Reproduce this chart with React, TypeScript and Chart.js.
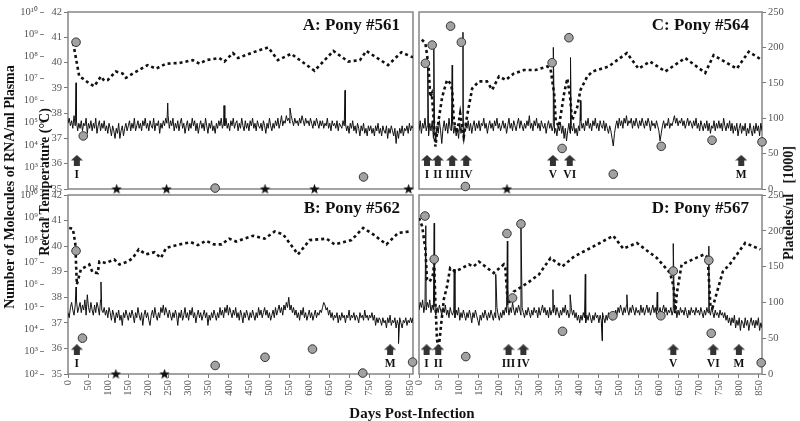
import { useEffect, useRef } from "react";
import { Chart, registerables } from "chart.js";

Chart.register(...registerables);

// ---------------- DATA ----------------
const DAY_STEP = 3; // rectal temperature samples every 3 days, starting at day 0

// Panel A: Pony #561
const tempA = [
  37.6, 37.8, 37.5, 37.7, 37.4, 37.9, 37.5, 37.7, 37.3, 37.6,
  37.4, 37.7, 37.3, 37.6, 37.5, 37.8, 37.2, 37.6, 37.4, 37.7,
  37.3, 37.6, 37.4, 37.8, 37.2, 37.5, 37.7, 37.3, 37.6, 37.4,
  37.7, 37.3, 37.5, 37.2, 37.6, 37.4, 37.1, 37.5, 37.3, 37.0,
  37.4, 37.2, 37.6, 37.0, 37.3, 37.5, 37.1, 37.4, 37.6, 37.3,
  37.5, 37.7, 37.3, 37.6, 37.4, 37.8, 37.3, 37.5, 37.7, 37.4,
  37.6, 37.3, 37.7, 37.5, 37.8, 37.4, 37.6, 37.3, 37.7, 37.5,
  37.4, 37.8, 37.3, 37.6, 37.5, 37.7, 37.2, 37.6, 37.4, 37.7,
  37.5, 37.8, 37.6, 37.9, 37.4, 37.7, 37.5, 37.8, 37.3, 37.6,
  37.4, 37.7, 37.3, 37.6, 37.8, 37.4, 37.6, 37.2, 37.5, 37.7,
  37.3, 37.6, 37.4, 37.8, 37.5, 37.7, 37.3, 37.6, 37.2, 37.5,
  37.7, 37.4, 37.6, 37.3, 37.8, 37.5, 37.2, 37.6, 37.4, 37.7,
  37.3, 37.5, 37.2, 37.6, 37.4, 37.7, 37.5, 37.8, 37.4, 37.6,
  37.5, 37.8, 37.4, 37.6, 37.3, 37.7, 37.5, 37.8, 37.4, 37.6,
  37.7, 37.3, 37.6, 37.4, 37.8, 37.5, 37.3, 37.7, 37.4, 37.6,
  37.3, 37.7, 37.5, 37.8, 37.4, 37.6, 37.3, 37.7, 37.5, 37.4,
  37.6, 37.3, 37.7, 37.5, 37.2, 37.6, 37.4, 37.8, 37.5, 37.3,
  37.6, 37.4, 37.7, 37.5, 37.8, 37.4, 37.6, 37.9, 37.5, 37.7,
  37.6, 37.9, 37.7, 37.8, 37.6, 37.9, 37.7, 37.5, 37.8, 37.6,
  37.7, 37.5, 37.8, 37.6, 37.9, 37.7, 37.5, 37.8, 37.6, 37.7,
  37.5, 37.8, 37.6, 37.4, 37.7, 37.5, 37.8, 37.6, 37.4, 37.7,
  37.5, 37.7, 37.4, 37.6, 37.5, 37.8, 37.4, 37.6, 37.3, 37.7,
  37.5, 37.6, 37.4, 37.7, 37.3, 37.6, 37.5, 37.4, 37.7, 37.5,
  37.6, 37.3, 37.5, 37.2, 37.6, 37.4, 37.7, 37.3, 37.5, 37.2,
  37.6, 37.4, 37.1, 37.5, 37.3, 37.6, 37.2, 37.4, 37.1, 37.5,
  37.3, 37.5, 37.2, 37.4, 37.1, 37.5, 37.3, 37.6, 37.2, 37.4,
  37.1, 37.5, 37.3, 37.2, 37.5, 37.0, 37.4, 37.2, 37.5, 37.3,
  37.1, 37.4, 36.8, 37.3, 37.0, 37.4, 37.2, 37.5, 37.1, 37.4,
  37.3, 37.5, 37.2, 37.6, 37.3, 37.5, 37.4,
];
const spikeDaysA = [20, 248, 388, 552, 689];
const spikeTempsA = [39.2, 38.4, 38.3, 38.2, 38.9];
const plateletDaysA = [13, 28, 37, 53, 65, 82, 90, 99, 119, 136, 144, 161, 198, 219, 244, 277, 310, 327, 343, 376, 389, 410, 423, 460, 498, 522, 555, 613, 660, 697, 726, 742, 796, 829, 858];
const plateletsA = [206, 159, 156, 149, 145, 159, 153, 154, 166, 163, 157, 163, 175, 170, 177, 178, 182, 177, 182, 185, 180, 192, 185, 193, 200, 182, 191, 167, 195, 180, 182, 195, 175, 193, 186];
const rnaDaysA = [20, 38, 366, 735];
const rnaA = [4.3e8, 2.5e4, 1.1e2, 3.5e2];
const belowDetectionDaysA = [121, 245, 490, 613, 847];
const treatDaysA = [22];
const treatLabelsA = ["I"];

// Panel B: Pony #562
const tempB = [
  37.4, 37.2, 37.6, 37.8, 37.5, 37.3, 37.7, 37.9, 37.4, 37.6,
  37.8, 37.4, 37.7, 37.5, 37.9, 37.3, 38.1, 37.6, 37.4, 37.8,
  37.5, 37.3, 37.7, 37.4, 37.8, 37.6, 37.3, 37.9, 37.5, 37.4,
  37.6, 37.3, 37.5, 37.2, 37.6, 37.4, 37.1, 37.5, 37.3, 37.0,
  37.4, 37.2, 37.5, 37.1, 37.3, 36.9, 37.4, 37.2, 37.5, 37.3,
  37.1, 37.4, 37.2, 37.5, 37.3, 37.0, 37.4, 37.2, 37.6, 37.3,
  37.1, 37.4, 36.9, 37.3, 37.5, 37.2, 37.4, 37.1, 36.9, 37.3,
  37.5, 37.2, 37.6, 37.3, 37.1, 37.4, 37.2, 37.6, 37.4, 37.7,
  37.3, 37.6, 37.4, 37.2, 37.5, 37.3, 37.1, 37.4, 37.2, 37.5,
  37.3, 36.9, 37.4, 37.2, 37.5, 37.1, 37.3, 37.6, 37.2, 37.4,
  37.1, 37.5, 37.3, 37.6, 37.2, 37.4, 37.0, 37.3, 37.5, 37.2,
  37.4, 37.1, 37.3, 37.5, 37.2, 37.4, 36.9, 37.3, 37.1, 37.4,
  37.2, 37.5, 37.3, 37.1, 37.4, 37.2, 37.6, 37.3, 37.5, 37.2,
  37.6, 37.4, 37.7, 37.3, 37.6, 37.4, 37.2, 37.5, 37.3, 37.6,
  37.2, 37.4, 37.1, 37.5, 37.3, 37.0, 37.4, 37.2, 37.5, 37.3,
  37.1, 37.4, 37.2, 37.5, 37.3, 37.1, 37.4, 37.2, 37.6, 37.3,
  37.5, 37.2, 37.4, 37.6, 37.3, 37.5, 37.2, 37.4, 37.1, 37.3,
  37.5, 37.2, 37.6, 37.3, 37.5, 37.7, 37.4, 37.6, 37.3, 37.7,
  37.5, 37.8, 37.6, 38.0, 37.5, 37.7, 37.4, 37.6, 37.3, 37.5,
  37.2, 37.4, 37.1, 37.5, 37.3, 37.6, 37.2, 37.4, 37.1, 37.3,
  37.5, 37.2, 37.4, 37.1, 37.3, 37.5, 37.2, 37.4, 37.3, 37.5,
  37.4, 37.6, 37.8, 37.7, 37.5, 37.6, 37.3, 37.5, 37.2, 37.4,
  37.1, 37.3, 37.2, 37.4, 37.0, 37.3, 37.1, 37.4, 37.2, 37.3,
  37.0, 37.3, 37.2, 37.5, 37.1, 37.3, 37.2, 37.4, 37.1, 37.3,
  37.2, 37.0, 37.4, 37.2, 37.3, 37.1, 37.5, 37.2, 37.3, 37.1,
  37.3, 37.2, 37.4, 37.1, 37.3, 36.9, 37.2, 37.0, 37.2, 37.1,
  36.9, 37.2, 37.0, 37.1, 36.8, 37.2, 37.0, 37.3, 36.9, 37.1,
  37.0, 37.2, 36.8, 37.1, 36.9, 37.2, 37.0, 36.8, 37.1, 37.0,
  37.2, 36.9, 37.1, 37.0, 37.2, 37.0, 37.2,
];
const spikeDaysB = [20, 82, 822];
const spikeTempsB = [38.4, 38.6, 36.2];
const plateletDaysB = [3, 12, 18, 22, 32, 53, 61, 74, 78, 94, 115, 128, 149, 161, 176, 194, 215, 231, 244, 277, 306, 323, 343, 363, 382, 401, 418, 460, 489, 514, 535, 572, 601, 643, 663, 705, 734, 759, 792, 821, 850];
const plateletsB = [204, 203, 183, 125, 146, 153, 142, 141, 157, 155, 160, 153, 157, 162, 174, 167, 170, 162, 176, 181, 184, 180, 186, 181, 181, 189, 185, 193, 189, 199, 195, 167, 187, 189, 181, 187, 204, 195, 181, 197, 199];
const rnaDaysB = [20, 36, 366, 490, 608, 733, 857];
const rnaB = [3.2e7, 4.0e3, 2.4e2, 5.6e2, 1.3e3, 1.1e2, 3.4e2];
const belowDetectionDaysB = [119, 240];
const treatDaysB = [22, 801];
const treatLabelsB = ["I", "M"];

// Panel C: Pony #564
const tempC = [
  37.3, 37.7, 37.2, 37.6, 37.4, 37.8, 37.3, 37.5, 37.1, 37.6,
  37.3, 37.7, 37.0, 37.4, 36.9, 37.5, 37.2, 37.7, 37.3, 36.8,
  37.4, 37.7, 37.3, 37.6, 37.2, 37.8, 37.4, 37.3, 37.6, 37.2,
  37.5, 37.1, 37.4, 37.0, 37.6, 37.2, 37.5, 36.9, 37.3, 37.6,
  37.4, 37.7, 37.3, 37.6, 37.2, 37.5, 37.7, 37.3, 37.6, 37.4,
  37.7, 37.3, 37.6, 37.5, 37.8, 37.4, 37.6, 37.2, 37.5, 37.7,
  37.4, 37.6, 37.3, 37.7, 37.5, 37.8, 37.4, 37.6, 37.3, 37.5,
  37.7, 37.4, 37.6, 37.2, 37.5, 37.8, 37.4, 37.6, 37.3, 37.7,
  37.5, 37.3, 37.6, 37.8, 37.4, 37.7, 37.5, 37.3, 37.6, 37.4,
  37.7, 37.5, 37.9, 37.4, 37.6, 37.3, 37.7, 37.5, 37.8, 37.4,
  37.6, 37.3, 37.7, 37.5, 37.4, 37.6, 37.2, 37.5, 37.7, 37.4,
  37.6, 37.3, 37.5, 37.2, 37.4, 37.1, 37.5, 37.3, 37.6, 37.2,
  37.5, 37.0, 37.4, 36.9, 37.3, 37.6, 37.2, 37.5, 37.3, 37.6,
  37.2, 37.4, 37.1, 37.5, 37.3, 37.7, 37.4, 37.6, 37.3, 37.7,
  37.5, 37.8, 37.4, 37.6, 37.3, 37.7, 37.5, 37.8, 37.4, 37.6,
  37.3, 37.7, 37.5, 37.4, 37.7, 37.3, 37.6, 37.4, 37.2, 37.5,
  37.3, 37.0, 36.7, 37.2, 37.5, 37.7, 37.4, 37.8, 37.5, 37.7,
  37.4, 37.8, 37.6, 37.9, 37.5, 37.7, 37.6, 37.8, 37.4, 37.7,
  37.5, 37.8, 37.6, 37.4, 37.7, 37.5, 37.8, 37.6, 37.4, 37.7,
  37.5, 37.8, 37.6, 37.3, 37.7, 37.5, 37.6, 37.4, 37.7, 37.5,
  37.3, 36.9, 37.2, 37.5, 37.7, 37.4, 37.6, 37.5, 37.8, 37.4,
  37.6, 37.5, 37.7, 37.9, 37.6, 37.8, 37.5, 37.7, 37.6, 37.8,
  37.5, 37.7, 37.4, 37.6, 37.8, 37.5, 37.7, 37.6, 37.4, 37.7,
  37.5, 37.8, 37.4, 37.6, 37.3, 37.7, 37.5, 37.3, 37.6, 37.4,
  37.7, 37.3, 37.6, 37.2, 37.5, 37.4, 37.7, 37.3, 37.6, 37.4,
  37.7, 37.4, 37.6, 37.3, 37.8, 37.5, 37.3, 37.6, 37.4, 37.7,
  37.3, 37.6, 37.2, 37.5, 37.3, 37.6, 37.1, 37.4, 37.6, 37.2,
  37.5, 37.3, 37.6, 37.1, 37.4, 37.2, 37.6, 37.3, 37.1, 37.5,
  37.2, 37.6, 37.3, 37.5, 37.1, 37.6, 37.3,
];
const spikeDaysC = [22, 37, 83, 110, 336, 379, 404];
const spikeTempsC = [39.9, 40.8, 39.9, 41.2, 40.6, 40.2, 38.5];
const plateletDaysC = [7, 16, 24, 28, 32, 37, 41, 49, 58, 70, 79, 83, 87, 95, 103, 112, 120, 133, 150, 170, 183, 200, 217, 237, 262, 291, 321, 329, 338, 342, 350, 363, 371, 378, 383, 396, 404, 421, 434, 474, 520, 549, 578, 616, 666, 716, 737, 795, 825, 858];
const plateletsC = [211, 206, 173, 130, 135, 97, 60, 97, 130, 154, 149, 140, 97, 79, 107, 74, 102, 142, 152, 152, 140, 159, 154, 163, 168, 168, 173, 170, 135, 97, 88, 135, 156, 130, 97, 116, 140, 159, 166, 173, 192, 170, 180, 166, 185, 164, 189, 170, 194, 182];
const rnaDaysC = [16, 33, 79, 106, 116, 333, 358, 375, 486, 606, 733, 858];
const rnaC = [4.8e7, 3.2e8, 2.3e9, 4.3e8, 1.3e2, 5.1e7, 6.8e3, 6.9e8, 4.7e2, 8.5e3, 1.6e4, 1.35e4];
const belowDetectionDaysC = [220];
const treatDaysC = [20, 47, 83, 118, 335, 377, 806];
const treatLabelsC = ["I", "II", "III", "IV", "V", "VI", "M"];

// Panel D: Pony #567
const tempD = [
  37.5, 37.8, 37.6, 37.9, 37.4, 37.7, 37.5, 37.8, 37.6, 37.9,
  37.4, 37.7, 37.5, 37.8, 37.3, 37.6, 37.4, 37.7, 37.5, 37.3,
  37.6, 37.4, 37.7, 37.3, 37.5, 37.2, 37.6, 37.4, 37.3, 37.5,
  37.2, 37.5, 37.3, 37.6, 37.1, 37.4, 37.2, 37.5, 37.3, 37.1,
  37.4, 37.2, 37.5, 37.3, 37.0, 37.4, 37.2, 37.5, 37.3, 37.1,
  36.9, 37.3, 37.1, 37.4, 37.2, 37.5, 37.3, 37.1, 37.4, 37.2,
  37.5, 37.3, 37.1, 37.4, 37.2, 37.6, 37.3, 37.1, 37.4, 37.2,
  37.5, 37.3, 37.6, 37.4, 37.7, 37.3, 37.6, 37.4, 37.8, 37.5,
  37.3, 37.6, 37.4, 37.7, 37.5, 37.3, 37.6, 37.4, 37.2, 37.5,
  37.3, 37.6, 37.4, 37.2, 37.5, 37.3, 37.6, 37.4, 37.5, 37.2,
  37.6, 37.3, 37.5, 37.7, 37.4, 37.6, 37.3, 37.5, 37.2, 37.6,
  37.3, 37.5, 37.4, 37.7, 37.3, 37.6, 37.4, 37.2, 37.5, 37.3,
  37.6, 37.4, 37.7, 37.3, 37.5, 37.2, 37.4, 37.6, 37.3, 37.5,
  37.2, 37.4, 37.1, 37.3, 37.0, 37.3, 37.1, 37.4, 37.2, 37.0,
  37.3, 37.1, 37.4, 37.2, 37.0, 37.3, 37.1, 37.4, 37.2, 37.3,
  37.0, 37.3, 37.1, 37.4, 37.2, 37.0, 37.3, 37.1, 37.4, 37.2,
  37.3, 37.1, 37.4, 37.2, 37.5, 37.3, 37.6, 37.4, 37.7, 37.5,
  37.3, 37.6, 37.4, 37.7, 37.5, 37.3, 37.6, 37.4, 37.7, 37.5,
  37.3, 37.6, 37.4, 37.5, 37.3, 37.7, 37.4, 37.6, 37.3, 37.5,
  37.7, 37.4, 37.6, 37.3, 37.5, 37.7, 37.4, 37.6, 37.3, 37.5,
  37.4, 37.6, 37.3, 37.5, 37.7, 37.4, 37.6, 37.3, 37.5, 37.4,
  37.6, 37.3, 37.5, 37.4, 37.6, 37.2, 37.5, 37.3, 37.6, 37.4,
  37.5, 37.3, 37.6, 37.4, 37.2, 37.5, 37.3, 37.6, 37.4, 37.5,
  37.3, 37.6, 37.4, 37.5, 37.3, 37.6, 37.4, 37.2, 37.5, 37.3,
  37.6, 37.4, 37.5, 37.3, 37.6, 37.4, 37.2, 37.5, 37.3, 37.4,
  37.2, 37.5, 37.3, 37.4, 37.2, 37.4, 37.1, 37.3, 37.0, 37.2,
  36.9, 37.2, 37.0, 37.3, 36.8, 37.1, 36.9, 37.2, 36.7, 37.1,
  37.0, 36.8, 37.2, 36.9, 37.1, 36.7, 37.0, 37.2, 36.9, 37.1,
  36.8, 37.1, 36.9, 37.2, 36.7, 37.0, 36.8,
];
const spikeDaysD = [17, 38, 88, 192, 221, 255, 335, 378, 416, 458, 520, 596, 636, 725];
const spikeTempsD = [40.8, 40.9, 39.1, 38.9, 40.2, 40.9, 38.3, 38.1, 38.9, 36.3, 38.1, 38.2, 40.1, 40.0];
const plateletDaysD = [0, 8, 16, 20, 27, 35, 38, 41, 45, 49, 55, 62, 70, 78, 91, 125, 136, 150, 187, 212, 216, 221, 225, 237, 271, 300, 329, 358, 388, 429, 486, 511, 545, 595, 628, 637, 641, 645, 657, 713, 722, 729, 734, 760, 777, 816, 854];
const plateletsD = [218, 206, 174, 132, 129, 139, 155, 99, 48, 34, 67, 104, 122, 148, 143, 153, 150, 157, 141, 153, 148, 108, 99, 115, 127, 139, 162, 150, 164, 176, 193, 175, 183, 162, 141, 122, 85, 113, 153, 167, 163, 95, 92, 143, 153, 183, 174];
const rnaDaysD = [15, 38, 117, 220, 234, 255, 359, 485, 605, 636, 725, 731, 856];
const rnaD = [1.15e9, 1.35e7, 6.0e2, 1.9e8, 2.5e5, 5.1e8, 8.1e3, 4.0e4, 4.0e4, 4.0e6, 1.2e7, 6.6e3, 3.2e2];
const belowDetectionDaysD: number[] = [];
const treatDaysD = [19, 48, 224, 261, 636, 736, 800];
const treatLabelsD = ["I", "II", "III", "IV", "V", "VI", "M"];

// Axis ranges / ticks
const DAY_MAX = 858;
const TEMP_MIN = 35;
const TEMP_MAX = 42;
const RNA_EXPONENTS = [2, 3, 4, 5, 6, 7, 8, 9, 10];
const PLATELET_MAX = 250;

// ---------------- STYLE / LAYOUT ----------------
const SERIF = '"Liberation Serif", "Times New Roman", Times, serif';
const TICK_COLOR = "#555";
const BORDER_COLOR = "#858585";

type Panel = {
  key: string;
  title: string;
  left: boolean;
  showX: boolean;
  padding: { left: number; top: number; right: number; bottom: number };
  arrowLevel: number;
  temps: number[];
  spikeDays: number[];
  spikeTemps: number[];
  plateletDays: number[];
  platelets: number[];
  rnaDays: number[];
  rna: number[];
  starDays: number[];
  treatDays: number[];
  treatLabels: string[];
};

const PANELS: Panel[] = [
  {
    key: "A", title: "A: Pony #561", left: true, showX: false,
    padding: { left: 0, top: 12, right: 387, bottom: 232 }, arrowLevel: 36.13,
    temps: tempA, spikeDays: spikeDaysA, spikeTemps: spikeTempsA,
    plateletDays: plateletDaysA, platelets: plateletsA,
    rnaDays: rnaDaysA, rna: rnaA, starDays: belowDetectionDaysA,
    treatDays: treatDaysA, treatLabels: treatLabelsA,
  },
  {
    key: "B", title: "B: Pony #562", left: true, showX: true,
    padding: { left: 0, top: 195, right: 387, bottom: 17 }, arrowLevel: 35.95,
    temps: tempB, spikeDays: spikeDaysB, spikeTemps: spikeTempsB,
    plateletDays: plateletDaysB, platelets: plateletsB,
    rnaDays: rnaDaysB, rna: rnaB, starDays: belowDetectionDaysB,
    treatDays: treatDaysB, treatLabels: treatLabelsB,
  },
  {
    key: "C", title: "C: Pony #564", left: false, showX: false,
    padding: { left: 419, top: 12, right: 0, bottom: 232 }, arrowLevel: 36.13,
    temps: tempC, spikeDays: spikeDaysC, spikeTemps: spikeTempsC,
    plateletDays: plateletDaysC, platelets: plateletsC,
    rnaDays: rnaDaysC, rna: rnaC, starDays: belowDetectionDaysC,
    treatDays: treatDaysC, treatLabels: treatLabelsC,
  },
  {
    key: "D", title: "D: Pony #567", left: false, showX: true,
    padding: { left: 419, top: 195, right: 0, bottom: 17 }, arrowLevel: 35.95,
    temps: tempD, spikeDays: spikeDaysD, spikeTemps: spikeTempsD,
    plateletDays: plateletDaysD, platelets: plateletsD,
    rnaDays: rnaDaysD, rna: rnaD, starDays: belowDetectionDaysD,
    treatDays: treatDaysD, treatLabels: treatLabelsD,
  },
];

function sup(n: number): string {
  const m = "⁰¹²³⁴⁵⁶⁷⁸⁹";
  return String(n).split("").map((c) => m[+c]).join("");
}

function makeArrow(): HTMLCanvasElement {
  const c = document.createElement("canvas");
  c.width = 12;
  c.height = 11;
  const g = c.getContext("2d")!;
  g.fillStyle = "#333";
  g.beginPath();
  g.moveTo(0, 5.5);
  g.lineTo(6, 0);
  g.lineTo(12, 5.5);
  g.lineTo(9, 5.5);
  g.lineTo(9, 11);
  g.lineTo(3, 11);
  g.lineTo(3, 5.5);
  g.closePath();
  g.fill();
  return c;
}

function makeStar(): HTMLCanvasElement {
  const c = document.createElement("canvas");
  c.width = 11;
  c.height = 11;
  const g = c.getContext("2d")!;
  g.fillStyle = "#111";
  g.beginPath();
  for (let i = 0; i < 10; i++) {
    const r = i % 2 === 0 ? 5.5 : 2.3;
    const a = -Math.PI / 2 + (i * Math.PI) / 5;
    const x = 5.5 + r * Math.cos(a);
    const y = 5.8 + r * Math.sin(a);
    if (i === 0) g.moveTo(x, y);
    else g.lineTo(x, y);
  }
  g.closePath();
  g.fill();
  return c;
}

const decorPlugin = {
  id: "panelDecor",
  beforeDatasetsDraw(chart: any) {
    const { ctx, chartArea: a } = chart;
    ctx.save();
    ctx.strokeStyle = BORDER_COLOR;
    ctx.lineWidth = 1.5;
    ctx.strokeRect(a.left, a.top, a.right - a.left, a.bottom - a.top);
    ctx.restore();
  },
  afterDatasetsDraw(chart: any, _args: any, opts: any) {
    const { ctx, chartArea: a } = chart;
    ctx.save();
    ctx.fillStyle = "#111";
    ctx.font = `bold 17px ${SERIF}`;
    ctx.textAlign = "right";
    ctx.textBaseline = "alphabetic";
    ctx.fillText(opts.title, a.right - 13, a.top + 18);
    const meta = chart.getDatasetMeta(opts.arrowIndex);
    ctx.font = `bold 11.5px ${SERIF}`;
    ctx.textAlign = "center";
    ctx.textBaseline = "top";
    meta.data.forEach((el: any, i: number) => {
      ctx.fillText(opts.labels[i], el.x, el.y + 9);
    });
    ctx.restore();
  },
};

function buildChart(canvas: HTMLCanvasElement, p: Panel, arrowImg: HTMLCanvasElement, starImg: HTMLCanvasElement) {
  const tempPts = p.temps.map((v, i) => ({ x: i * DAY_STEP, y: v }));
  p.spikeDays.forEach((d, i) => tempPts.push({ x: d, y: p.spikeTemps[i] }));
  tempPts.sort((a, b) => a.x - b.x);

  const plateletPts = p.plateletDays.map((d, i) => ({ x: d, y: p.platelets[i] }));
  const rnaPts = p.rnaDays.map((d, i) => ({ x: d, y: p.rna[i] }));
  const starPts = p.starDays.map((d) => ({ x: d, y: Math.pow(10, RNA_EXPONENTS[0]) }));
  const arrowPts = p.treatDays.map((d) => ({ x: d, y: p.arrowLevel }));

  const tickFont = { family: SERIF, size: 10.5 };

  return new Chart(canvas, {
    type: "line",
    data: {
      datasets: [
        {
          data: tempPts, yAxisID: "yT", borderColor: "#111", borderWidth: 1,
          pointRadius: 0, tension: 0, order: 2,
        },
        {
          data: plateletPts, yAxisID: "yP", borderColor: "#111", borderWidth: 2.6,
          borderDash: [3, 3], pointRadius: 0, tension: 0, order: 3,
        },
        {
          data: rnaPts, yAxisID: "yR", showLine: false, pointRadius: 4.3,
          pointBackgroundColor: "#a2a2a2", pointBorderColor: "#333", pointBorderWidth: 1,
          clip: false, order: 0,
        },
        {
          data: starPts, yAxisID: "yR", showLine: false, pointRadius: 5,
          pointStyle: starImg, clip: false, order: 0,
        },
        {
          data: arrowPts, yAxisID: "yT", showLine: false, pointRadius: 6,
          pointStyle: arrowImg, clip: false, order: 0,
        },
      ],
    } as any,
    options: {
      animation: false,
      responsive: false,
      events: [],
      layout: { padding: p.padding },
      plugins: {
        legend: { display: false },
        tooltip: { enabled: false },
        panelDecor: { title: p.title, arrowIndex: 4, labels: p.treatLabels },
      } as any,
      scales: {
        x: {
          type: "linear", min: 0, max: DAY_MAX, display: p.showX,
          afterFit: p.showX ? (s: any) => { s.height = 30; } : undefined,
          ticks: {
            stepSize: 50, includeBounds: false, autoSkip: false, minRotation: 90, maxRotation: 90,
            font: tickFont, color: TICK_COLOR, padding: 2,
          },
          grid: { drawOnChartArea: false, drawTicks: true, tickLength: 4, color: "#777" },
          border: { display: false },
        },
        yT: {
          type: "linear", position: "left", min: TEMP_MIN, max: TEMP_MAX, display: p.left, weight: 0,
          afterFit: p.left ? (s: any) => { s.width = 24; } : undefined,
          ticks: { stepSize: 1, font: tickFont, color: TICK_COLOR, padding: 2 },
          grid: { drawOnChartArea: false, tickLength: 4, color: "#777" },
          border: { display: false },
        },
        yR: {
          type: "logarithmic", position: "left", display: p.left, weight: 1,
          min: Math.pow(10, RNA_EXPONENTS[0]), max: Math.pow(10, RNA_EXPONENTS[RNA_EXPONENTS.length - 1]),
          afterFit: p.left ? (s: any) => { s.width = 44; } : undefined,
          afterBuildTicks: (s: any) => { s.ticks = RNA_EXPONENTS.map((e) => ({ value: Math.pow(10, e) })); },
          ticks: {
            autoSkip: false, font: tickFont, color: TICK_COLOR, padding: 2,
            callback: (v: any) => "10" + sup(Math.round(Math.log10(Number(v)))),
          },
          grid: { drawOnChartArea: false, tickLength: 4, color: "#888" },
          border: { display: false },
        },
        yP: {
          type: "linear", position: "right", min: 0, max: PLATELET_MAX, display: !p.left,
          afterFit: !p.left ? (s: any) => { s.width = 38; } : undefined,
          ticks: { stepSize: 50, font: tickFont, color: TICK_COLOR, padding: 2 },
          grid: { drawOnChartArea: false, tickLength: 4, color: "#777" },
          border: { display: false },
        },
      } as any,
    },
    plugins: [decorPlugin as any],
  });
}

function rotatedTitle(cx: number, cy: number, size: number): React.CSSProperties {
  return {
    position: "absolute", left: cx, top: cy,
    transform: "translate(-50%, -50%) rotate(-90deg)",
    whiteSpace: "pre", fontWeight: "bold", fontSize: size, lineHeight: `${size + 2}px`,
    color: "#111", fontFamily: SERIF,
  };
}

export default function App() {
  const r0 = useRef<HTMLCanvasElement>(null);
  const r1 = useRef<HTMLCanvasElement>(null);
  const r2 = useRef<HTMLCanvasElement>(null);
  const r3 = useRef<HTMLCanvasElement>(null);
  const refs = [r0, r1, r2, r3];

  useEffect(() => {
    const arrowImg = makeArrow();
    const starImg = makeStar();
    const charts = PANELS.map((p, i) => buildChart(refs[i].current!, p, arrowImg, starImg));
    return () => charts.forEach((c) => c.destroy());
  }, []);

  return (
    <div style={{ position: "absolute", left: 0, top: 0, width: 800, height: 421, background: "#fff", overflow: "hidden" }}>
      {PANELS.map((p, i) => (
        <canvas key={p.key} ref={refs[i]} width={800} height={421}
          style={{ position: "absolute", left: 0, top: 0, width: 800, height: 421 }} />
      ))}
      <div style={rotatedTitle(10, 187, 14)}>Number of Molecules of RNA/ml Plasma</div>
      <div style={rotatedTitle(45, 182, 14)}>Rectal Temperature (°C)</div>
      <div style={rotatedTitle(789, 203, 14)}>{"Platelets/ul   [1000]"}</div>
      <div style={{
        position: "absolute", left: 412, top: 413, transform: "translate(-50%, -50%)",
        whiteSpace: "nowrap", fontWeight: "bold", fontSize: 15, color: "#111", fontFamily: SERIF,
      }}>Days Post-Infection</div>
    </div>
  );
}
